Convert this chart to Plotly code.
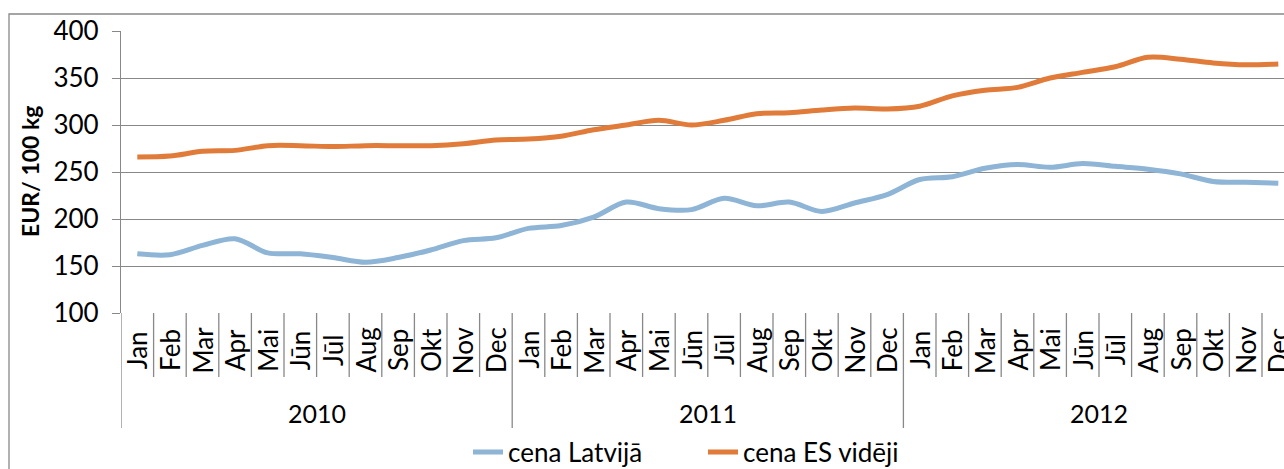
import plotly.graph_objects as go

years = ["2010", "2011", "2012"]
months = ["Jan", "Feb", "Mar", "Apr", "Mai", "Jūn", "Jūl", "Aug", "Sep", "Okt", "Nov", "Dec"]

cena_latvija = [163, 162, 172, 179, 164, 163, 159, 154, 159, 167, 177, 180,
                190, 193, 202, 218, 211, 210, 222, 214, 218, 208, 217, 226,
                242, 245, 254, 258, 255, 259, 256, 253, 248, 240, 239, 238]
cena_es = [266, 267, 272, 273, 278, 278, 277, 278, 278, 278, 280, 284,
           285, 288, 295, 300, 305, 300, 305, 312, 313, 316, 318, 317,
           320, 331, 337, 340, 350, 356, 362, 372, 370, 366, 364, 365]

series_names = ["cena Latvijā", "cena ES vidēji"]
colors = ["#8EB4D6", "#E07B39"]

n = len(years) * len(months)
x_idx = list(range(n))

FONT = "Lato"
FS = 26
GRAY = "#888888"

fig = go.Figure()
for name, vals, col in zip(series_names, [cena_latvija, cena_es], colors):
    fig.add_trace(go.Scatter(
        x=x_idx, y=vals, name=name, mode="lines",
        line=dict(color=col, width=5, shape="spline", smoothing=0.9),
    ))

W, H = 1284, 469
L, T, B = 121, 31, 156
plot_w = W - L
plot_h = H - T - B
cat_w = 32.6
x_max = -0.5 + plot_w / cat_w

def py(pix):
    return (H - B - pix) / plot_h

def px(pix):
    return (pix - L) / plot_w

shapes = []
annotations = []
for i in range(n + 1):
    is_year = (i % len(months) == 0)
    shapes.append(dict(type="line", xref="x", yref="paper",
                       x0=i - 0.5, x1=i - 0.5, y0=0,
                       y1=py(428) if is_year else py(377),
                       line=dict(color=GRAY, width=1.3)))
for i in range(n):
    annotations.append(dict(x=i, y=py(350), xref="x", yref="paper",
                            text=months[i % len(months)], textangle=-90,
                            showarrow=False, xanchor="center", yanchor="middle",
                            font=dict(family=FONT, size=FS, color="black")))
for k, yr in enumerate(years):
    annotations.append(dict(x=k * len(months) + (len(months) - 1) / 2, y=py(413),
                            xref="x", yref="paper", text=yr, showarrow=False,
                            xanchor="center", yanchor="middle",
                            font=dict(family=FONT, size=25, color="black")))
annotations.append(dict(x=px(30), y=py(171), xref="paper", yref="paper",
                        text="<b>EUR/ 100 kg</b>", textangle=-90, showarrow=False,
                        xanchor="center", yanchor="middle",
                        font=dict(family=FONT, size=23, color="black")))
shapes.append(dict(type="rect", xref="paper", yref="paper",
                   x0=px(9), x1=1.2, y0=-1.0, y1=py(14),
                   line=dict(color=GRAY, width=1.3)))

fig.update_layout(
    width=W, height=H,
    margin=dict(l=L, r=0, t=T, b=B, pad=0, autoexpand=False),
    paper_bgcolor="white", plot_bgcolor="white",
    font=dict(family=FONT, size=FS, color="black"),
    xaxis=dict(range=[-0.5, x_max], showticklabels=False, showgrid=False,
               zeroline=False, showline=False, ticks="", automargin=False),
    yaxis=dict(range=[100, 400], dtick=50, showgrid=True, gridcolor=GRAY,
               gridwidth=1.3, zeroline=False, showline=True, linecolor=GRAY,
               linewidth=1.3, ticks="outside", ticklen=8, tickcolor=GRAY,
               tickwidth=1.3, ticklabelstandoff=8, automargin=False,
               tickfont=dict(family=FONT, size=FS, color="black")),
    showlegend=True,
    legend=dict(orientation="h", x=px(468), y=py(452), xanchor="left",
                yanchor="middle", font=dict(family=FONT, size=FS, color="black"),
                itemwidth=30, entrywidth=190, bgcolor="rgba(0,0,0,0)"),
    shapes=shapes, annotations=annotations,
)

fig.write_html("out.html", config={"displayModeBar": False})
with open("out.html", encoding="utf-8") as f:
    html = f.read()
html = html.replace("<body>", '<body style="margin:0;padding:0;overflow:hidden">', 1)
with open("out.html", "w", encoding="utf-8") as f:
    f.write(html)
